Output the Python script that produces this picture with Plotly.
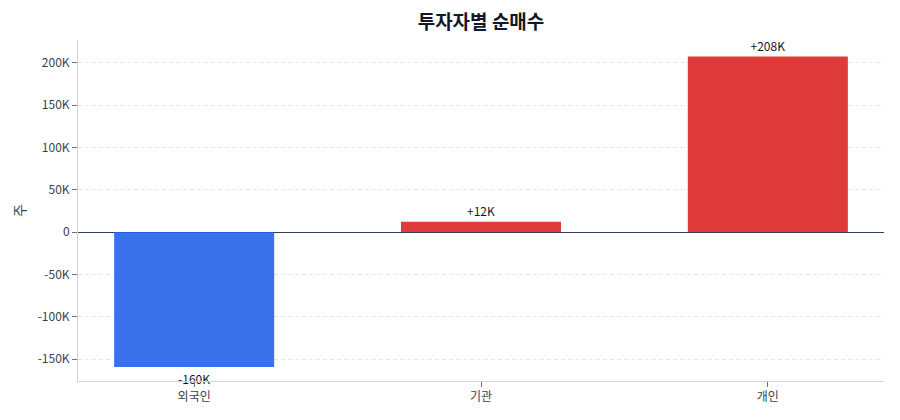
import plotly.graph_objects as go

categories = ["외국인", "기관", "개인"]
values = [-159600, 12300, 207500]
labels = ["-160K", "+12K", "+208K"]
colors = ["#2563eb" if v < 0 else "#dc2626" for v in values]

fig = go.Figure(go.Bar(
    x=categories, y=values, text=labels, textposition="outside",
    marker=dict(color=colors, opacity=0.9, line=dict(width=0)),
    textfont=dict(size=12, color="#111827"), cliponaxis=False, width=0.558,
))
fig.update_layout(
    width=900, height=420,
    margin=dict(l=70, r=24, t=32, b=47),
    paper_bgcolor="white", plot_bgcolor="white",
    font=dict(family="Noto Sans CJK KR", size=12, color="#374151"),
    title=dict(text="<b>투자자별 순매수</b>", x=0.5, xref="paper", xanchor="center",
               y=1 - 14 / 420, yanchor="middle",
               font=dict(size=19, color="#111827")),
    showlegend=False,
)
fig.update_yaxes(
    title=dict(text="주", standoff=8), range=[-176000, 227000],
    tickvals=[-150000, -100000, -50000, 0, 50000, 100000, 150000, 200000],
    ticktext=["-150K", "-100K", "-50K", "0", "50K", "100K", "150K", "200K"],
    showgrid=True, gridcolor="#e5e7eb", griddash="4px,3px",
    zeroline=True, zerolinecolor="#334155", zerolinewidth=1.2,
    showline=True, linecolor="#d1d5db", ticks="outside", tickcolor="#6b7280", ticklen=5,
)
fig.update_xaxes(
    range=[-0.405, 2.405],
    showline=True, linecolor="#d1d5db", ticks="outside", tickcolor="#6b7280", ticklen=5,
    showgrid=False,
)
fig.write_html("out.html")
